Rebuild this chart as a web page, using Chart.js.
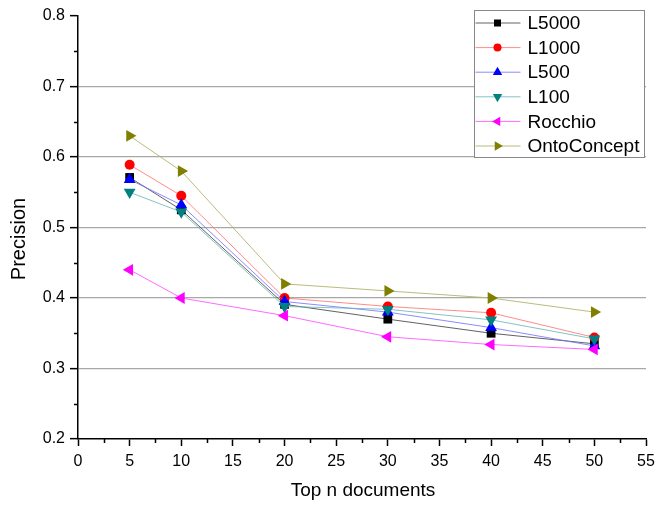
<!DOCTYPE html>
<html>
<head>
<meta charset="utf-8">
<title>Precision vs Top n documents</title>
<script src="https://cdn.jsdelivr.net/npm/chart.js@4.4.1/dist/chart.umd.min.js"></script>
<style>
    html, body { margin: 0; padding: 0; background: #fff; }
    #wrap { width: 671px; height: 506px; position: relative; }
</style>
</head>
<body>
<div id="wrap"><canvas id="precisionChart"></canvas></div>
<script>
// Dados
const topN = [5, 10, 20, 30, 40, 50];
const seriesNames = ['L5000', 'L1000', 'L500', 'L100', 'Rocchio', 'OntoConcept'];
const l5000 = [0.571, 0.525, 0.391, 0.370, 0.350, 0.335];
const l1000 = [0.589, 0.545, 0.400, 0.388, 0.379, 0.344];
const l500 = [0.568, 0.532, 0.395, 0.380, 0.358, 0.332];
const l100 = [0.550, 0.522, 0.388, 0.384, 0.369, 0.342];
const rocchio = [0.440, 0.400, 0.375, 0.345, 0.334, 0.327];
const ontoConcept = [0.630, 0.580, 0.420, 0.410, 0.400, 0.380];
const yTicks = [0.2, 0.3, 0.4, 0.5, 0.6, 0.7, 0.8];
const xTicks = [0, 5, 10, 15, 20, 25, 30, 35, 40, 45, 50, 55];

document.addEventListener('DOMContentLoaded', function () {
    const ctx = document.getElementById('precisionChart').getContext('2d');
    const FONT = '"Liberation Sans", Arial, sans-serif';

    // estilos de cada série (marcador e linha)
    const styles = [
        { marker: '#000000', line: 'rgba(70,70,70,0.85)', point: 'rect', rotation: 0, radius: 6.2 },
        { marker: '#ff0000', line: 'rgba(255,110,110,0.8)', point: 'circle', rotation: 0, radius: 5 },
        { marker: '#0000ff', line: 'rgba(110,110,255,0.8)', point: 'triangle', rotation: 0, radius: 6.8 },
        { marker: '#008080', line: 'rgba(100,180,180,0.8)', point: 'triangle', rotation: 180, radius: 6.8 },
        { marker: '#ff00ff', line: 'rgba(255,90,255,0.9)', point: 'triangle', rotation: 270, radius: 6.8 },
        { marker: '#808000', line: 'rgba(180,180,110,0.9)', point: 'triangle', rotation: 90, radius: 6.8 }
    ];
    const values = [l5000, l1000, l500, l100, rocchio, ontoConcept];

    const datasets = seriesNames.map(function (name, i) {
        return {
            label: name,
            data: topN.map(function (x, j) { return { x: x, y: values[i][j] }; }),
            borderColor: styles[i].line,
            borderWidth: 1,
            backgroundColor: styles[i].marker,
            pointBackgroundColor: styles[i].marker,
            pointBorderColor: styles[i].marker,
            pointBorderWidth: 0,
            pointStyle: styles[i].point,
            pointRotation: styles[i].rotation,
            pointRadius: styles[i].radius,
            tension: 0,
            order: seriesNames.length - 1 - i
        };
    });

    // tracinhos menores entre os ticks principais
    const minorTicks = {
        id: 'minorTicks',
        afterDraw(chart) {
            const c = chart.ctx;
            const xs = chart.scales.x, ys = chart.scales.y;
            c.save();
            c.strokeStyle = '#000';
            c.lineWidth = 1.5;
            c.beginPath();
            for (let i = 0; i < xTicks.length - 1; i++) {
                const px = Math.round(xs.getPixelForValue((xTicks[i] + xTicks[i + 1]) / 2)) + 0.5;
                c.moveTo(px, ys.bottom);
                c.lineTo(px, ys.bottom + 4);
            }
            for (let i = 0; i < yTicks.length - 1; i++) {
                const py = Math.round(ys.getPixelForValue((yTicks[i] + yTicks[i + 1]) / 2)) + 0.5;
                c.moveTo(xs.left, py);
                c.lineTo(xs.left - 4, py);
            }
            c.stroke();
            c.restore();
        }
    };

    // títulos dos eixos
    const axisTitles = {
        id: 'axisTitles',
        afterDraw(chart) {
            const c = chart.ctx;
            c.save();
            c.fillStyle = '#000';
            c.textAlign = 'center';
            c.textBaseline = 'middle';
            c.font = '19px ' + FONT;
            c.fillText('Top n documents', 363, 491);
            c.translate(19, 239);
            c.rotate(-Math.PI / 2);
            c.font = '20px ' + FONT;
            c.fillText('Precision', 0, 0);
            c.restore();
        }
    };

    // legenda com caixa, linha e marcador
    const boxLegend = {
        id: 'boxLegend',
        afterDraw(chart) {
            const c = chart.ctx;
            const left = 474.5, top = 10.5, w = 170, h = 147, rowH = 24.6;
            c.save();
            c.fillStyle = '#fff';
            c.fillRect(left, top, w, h);
            c.strokeStyle = '#888';
            c.lineWidth = 1;
            c.strokeRect(left, top, w, h);
            c.font = '19px ' + FONT;
            c.textBaseline = 'middle';
            c.textAlign = 'left';
            chart.data.datasets.forEach(function (ds, i) {
                const y = top + 12.5 + i * rowH;
                c.strokeStyle = ds.borderColor;
                c.lineWidth = 1;
                c.beginPath();
                c.moveTo(left + 1, y);
                c.lineTo(left + 46, y);
                c.stroke();
                c.fillStyle = ds.pointBackgroundColor;
                c.strokeStyle = ds.pointBorderColor;
                Chart.helpers.drawPoint(c, {
                    pointStyle: ds.pointStyle,
                    rotation: ds.pointRotation,
                    radius: ds.pointRadius * 0.8,
                    borderWidth: 0
                }, left + 23, y);
                c.fillStyle = '#000';
                c.fillText(ds.label, left + 53, y + 1);
            });
            c.restore();
        }
    };

    const config = {
        type: 'line',
        data: { datasets: datasets },
        options: {
            responsive: true,
            maintainAspectRatio: false,
            animation: false,
            layout: { padding: { top: 16, right: 25, bottom: 0, left: 0 } },
            plugins: {
                legend: { display: false },
                tooltip: { enabled: false }
            },
            scales: {
                x: {
                    type: 'linear',
                    min: 0,
                    max: 55,
                    afterFit: function (s) { s.height = 67; },
                    afterBuildTicks: function (s) { s.ticks = xTicks.map(function (v) { return { value: v }; }); },
                    ticks: {
                        color: '#000',
                        font: { family: FONT, size: 16 },
                        padding: 6,
                        maxRotation: 0,
                        autoSkip: false
                    },
                    grid: {
                        drawOnChartArea: false,
                        tickColor: '#000',
                        tickLength: 7,
                        tickWidth: 1.5
                    },
                    border: { color: '#000', width: 1.5 }
                },
                y: {
                    min: 0.2,
                    max: 0.8,
                    afterFit: function (s) { s.width = 78; },
                    afterBuildTicks: function (s) { s.ticks = yTicks.map(function (v) { return { value: v }; }); },
                    ticks: {
                        color: '#000',
                        font: { family: FONT, size: 16 },
                        padding: 5,
                        autoSkip: false,
                        callback: function (v) { return Number(v).toFixed(1); }
                    },
                    grid: {
                        color: function (c) {
                            const v = c.tick ? c.tick.value : 0;
                            return (v > 0.25 && v < 0.75) ? '#a8a8a8' : 'rgba(0,0,0,0)';
                        },
                        lineWidth: 1.3,
                        tickColor: '#000',
                        tickLength: 8,
                        tickWidth: 1.5
                    },
                    border: { color: '#000', width: 1.5 }
                }
            }
        },
        plugins: [minorTicks, axisTitles, boxLegend]
    };

    new Chart(ctx, config);
});
</script>
</body>
</html>
